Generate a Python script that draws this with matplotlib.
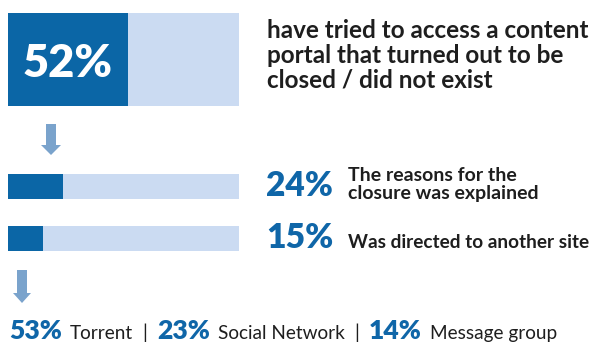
import matplotlib
matplotlib.use('Agg')
import matplotlib.pyplot as plt
from matplotlib.patches import FancyArrow

# ---------------- data ----------------
main_pct = 52
main_text = ["have tried to access a content",
             "portal that turned out to be",
             "closed / did not exist"]
sub_pcts = [24, 15]
sub_texts = [["The reasons for the", "closure was explained"],
             ["Was directed to another site"]]
channel_pcts = [53, 23, 14]
channel_labels = ["Torrent", "Social Network", "Message group"]

# ---------------- style ----------------
DARK = '#0b66a6'
LIGHT = '#cbdbf2'
ARROW = '#7aa3cc'
TEXT = '#1e1e1e'
BLUE_TXT = '#0f66a8'
FONT = 'Lato'

W, H = 605, 349
fig = plt.figure(figsize=(6.05, 3.49), dpi=100)
ax = fig.add_axes([0, 0, 1, 1])
ax.set_xlim(0, W)
ax.set_ylim(H, 0)
ax.axis('off')
renderer = fig.canvas.get_renderer()


def fit(t, target):
    w = t.get_window_extent(renderer).width
    t.set_fontsize(t.get_fontsize() * target / w)
    return t.get_fontsize()


BAR_LEFT = 8
BAR_LEN = 231

# main bar
ax.barh(59.5, BAR_LEN, left=BAR_LEFT, height=93, color=LIGHT, lw=0)
ax.barh(59.5, main_pct / 100 * BAR_LEN, left=BAR_LEFT, height=93, color=DARK, lw=0)
t = ax.text(BAR_LEFT + main_pct / 100 * BAR_LEN / 2, 77, f"{main_pct}%", color='white',
            fontweight='heavy', family=FONT, fontsize=30, ha='center', va='baseline')
fit(t, 90)

# heading text
t0 = ax.text(267, 38, main_text[0], color=TEXT, fontweight='bold', family=FONT,
             fontsize=15, ha='left', va='baseline')
hs = fit(t0, 323)
for i, line in enumerate(main_text[1:], start=1):
    ax.text(267, 38 + 25 * i, line, color=TEXT, fontweight='bold', family=FONT,
            fontsize=hs, ha='left', va='baseline')

# arrows
def arrow(x, y0, y1, hw):
    ax.add_patch(FancyArrow(x, y0, 0, y1 - y0, width=10, head_width=hw, head_length=10,
                            length_includes_head=True, color=ARROW, lw=0))

arrow(51, 124, 155, 20)
arrow(22, 270, 303, 18)

# sub bars
centers = [186.5, 238.5]
pct_base = [196, 248]
desc_base = [[181, 199], [248]]
desc_fit = [(1, 189), (0, 240)]
for k, (p, lines) in enumerate(zip(sub_pcts, sub_texts)):
    ax.barh(centers[k], BAR_LEN, left=BAR_LEFT, height=25, color=LIGHT, lw=0)
    ax.barh(centers[k], p / 100 * BAR_LEN, left=BAR_LEFT, height=25, color=DARK, lw=0)
    tp = ax.text(266, pct_base[k], f"{p}%", color=BLUE_TXT, fontweight='heavy',
                 family=FONT, fontsize=24, ha='left', va='baseline')
    fit(tp, 67)
    idx, target = desc_fit[k]
    tt = ax.text(0, -100, lines[idx], fontweight='bold', family=FONT, fontsize=12)
    ds = fit(tt, target)
    tt.remove()
    for line, yb in zip(lines, desc_base[k]):
        ax.text(348, yb, line, color=TEXT, fontweight='bold', family=FONT,
                fontsize=ds, ha='left', va='baseline')

# bottom line
tmp = ax.text(0, -100, "53%", fontweight='heavy', family=FONT, fontsize=18)
ps = fit(tmp, 53)
tmp.remove()
tmp = ax.text(0, -100, "Social Network", family=FONT, fontsize=13)
ls = fit(tmp, 127)
tmp.remove()

x = 9
yb = 339
for i, (p, lab) in enumerate(zip(channel_pcts, channel_labels)):
    tp = ax.text(x, yb, f"{p}%", color=BLUE_TXT, fontweight='heavy', family=FONT,
                 fontsize=ps, ha='left', va='baseline')
    x += tp.get_window_extent(renderer).width + 8
    tl = ax.text(x, yb, lab, color=TEXT, family=FONT, fontsize=ls, ha='left', va='baseline')
    x += tl.get_window_extent(renderer).width
    if i < len(channel_pcts) - 1:
        x += 12
        ax.text(x, yb, "|", color=TEXT, family=FONT, fontsize=ls, ha='center',
                va='baseline')
        x += 12

fig.savefig('out.png', dpi=100)
